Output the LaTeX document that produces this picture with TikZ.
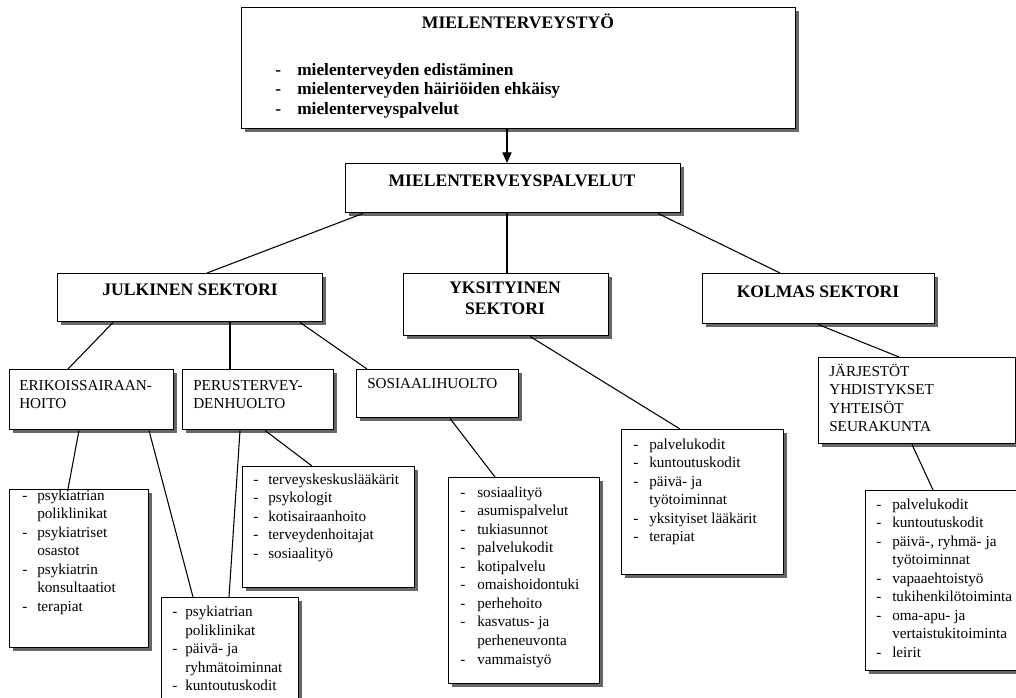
\documentclass[tikz,border=0pt]{standalone}
\usepackage{fontspec}
\setmainfont{Liberation Serif}
\usetikzlibrary{calc,shadows,arrows.meta}
\newcommand\mkbox[5]{\node[box,minimum width={#4*0.75pt},minimum height={#5*0.75pt}] (#1) at (#2,#3) {};}
\newcommand\blist[2]{\begin{tabular}{@{}p{#1}@{}l@{}}#2\end{tabular}}
\newcommand\llines[1]{\begin{tabular}{@{}l@{}}#1\end{tabular}}
\tikzset{
  box/.style={draw=black, fill=white, line width=1.1pt, inner sep=0pt, anchor=north west,
    drop shadow={shadow xshift=2.6pt, shadow yshift=-2.6pt, fill=black, opacity=0.6}},
  conn/.style={draw=black, line width=0.8pt},
  hdr/.style={font=\fontsize{13.2}{15.75}\selectfont\bfseries, anchor=base, inner sep=0pt},
  lst/.style={anchor=north west, inner sep=0pt, font=\fontsize{11.4}{13.9}\selectfont},
  toplst/.style={anchor=north west, inner sep=0pt, font=\fontsize{13}{14.6}\selectfont\bfseries}
}
\begin{document}
\begin{tikzpicture}[x=0.75pt,y=-0.75pt]
\useasboundingbox (0,0) rectangle (1016,698);
\fill[white] (0,0) rectangle (1016,698);
\clip (0,0) rectangle (1016,698);

% boxes
\mkbox{top}{241}{7}{554}{121}
\mkbox{mp}{345}{163}{335}{49}
\mkbox{js}{57}{273}{265}{48}
\mkbox{ys}{403}{273}{205}{62}
\mkbox{ks}{702}{273}{232}{50}
\mkbox{er}{9}{369}{164}{60}
\mkbox{pe}{182}{369}{151}{60}
\mkbox{so}{356}{369}{162}{48}
\mkbox{jar}{818}{357}{197}{86}
\mkbox{erl}{9}{489}{139}{158}
\mkbox{psy}{161}{597}{137}{130}
\mkbox{pel}{242}{466}{172}{121}
\mkbox{sol}{448}{477}{151}{206}
\mkbox{ysl}{621}{429}{162}{145}
\mkbox{kol}{865}{490}{165}{180}

% connectors
\draw[conn,-{Triangle[length=8pt,width=7pt]}] ($(top.south west)+(266,0)$) -- ($(mp.north west)+(162,0)$);
\draw[conn] ($(mp.south west)+(18,0)$) -- ($(js.north west)+(150,0)$);
\draw[conn] ($(mp.south west)+(162,0)$) -- ($(ys.north west)+(104,0)$);
\draw[conn] ($(mp.south west)+(313,0)$) -- ($(ks.north west)+(78,0)$);
\draw[conn] ($(js.south west)+(56,0)$) -- ($(er.north west)+(59,0)$);
\draw[conn] ($(js.south west)+(173,0)$) -- ($(pe.north west)+(48,0)$);
\draw[conn] ($(js.south west)+(243,0)$) -- ($(so.north west)+(11,0)$);
\draw[conn] ($(er.south west)+(70,0)$) -- ($(erl.north west)+(59,0)$);
\draw[conn] ($(er.south west)+(140,0)$) -- ($(psy.north west)+(32,0)$);
\draw[conn] ($(pe.south west)+(58,0)$) -- ($(psy.north west)+(68,0)$);
\draw[conn] ($(pe.south west)+(83,0)$) -- ($(pel.north west)+(70,0)$);
\draw[conn] ($(so.south west)+(94,0)$) -- ($(sol.north west)+(47,0)$);
\draw[conn] ($(ys.south west)+(127,0)$) -- ($(ysl.north west)+(59,0)$);
\draw[conn] ($(ks.south west)+(116,0)$) -- ($(jar.north west)+(81,0)$);
\draw[conn] ($(jar.south west)+(94,0)$) -- ($(kol.north west)+(68,0)$);

% texts
\node[hdr] (topt) at (518,29) {MIELENTERVEYSTYÖ};
\node[toplst] (topl) at (275,61.4) {\blist{16.5pt}{- & mielenterveyden edistäminen\\ - & mielenterveyden häiriöiden ehkäisy\\ - & mielenterveyspalvelut}};
\node[hdr] (mpt) at (512,187) {MIELENTERVEYSPALVELUT};
\node[hdr] (jst) at (190,296) {JULKINEN SEKTORI};
\node[hdr] (yst1) at (505,294) {YKSITYINEN};
\node[hdr] (yst2) at (505,315) {SEKTORI};
\node[hdr] (kst) at (818,297) {KOLMAS SEKTORI};

\node[lst] (ert) at (19,377) {\llines{ERIKOISSAIRAAN-\\HOITO}};
\node[lst] (pet) at (193,377) {\llines{PERUSTERVEY-\\DENHUOLTO}};
\node[lst] (sot) at (367,375) {\llines{SOSIAALIHUOLTO}};
\node[lst] (jart) at (829,363) {\llines{JÄRJESTÖT\\YHDISTYKSET\\YHTEISÖT\\SEURAKUNTA}};

\node[lst] (erlt) at (22,487) {\blist{11.25pt}{- & psykiatrian\\ & poliklinikat\\ - & psykiatriset\\ & osastot\\ - & psykiatrin\\ & konsultaatiot\\ - & terapiat}};
\node[lst] (psyt) at (172,603.5) {\blist{9.75pt}{- & psykiatrian\\ & poliklinikat\\ - & päivä- ja\\ & ryhmätoiminnat\\ - & kuntoutuskodit}};
\node[lst] (pelt) at (253,471) {\blist{11.25pt}{- & terveyskeskuslääkärit\\ - & psykologit\\ - & kotisairaanhoito\\ - & terveydenhoitajat\\ - & sosiaalityö}};
\node[lst] (solt) at (460,484) {\blist{12.75pt}{- & sosiaalityö\\ - & asumispalvelut\\ - & tukiasunnot\\ - & palvelukodit\\ - & kotipalvelu\\ - & omaishoidontuki\\ - & perhehoito\\ - & kasvatus- ja\\ & perheneuvonta\\ - & vammaistyö}};
\node[lst] (yslt) at (633,436) {\blist{12pt}{- & palvelukodit\\ - & kuntoutuskodit\\ - & päivä- ja\\ & työtoiminnat\\ - & yksityiset lääkärit\\ - & terapiat}};
\node[lst] (kolt) at (876,496) {\blist{12pt}{- & palvelukodit\\ - & kuntoutuskodit\\ - & päivä-, ryhmä- ja\\ & työtoiminnat\\ - & vapaaehtoistyö\\ - & tukihenkilötoiminta\\ - & oma-apu- ja\\ & vertaistukitoiminta\\ - & leirit}};
\end{tikzpicture}
\end{document}
